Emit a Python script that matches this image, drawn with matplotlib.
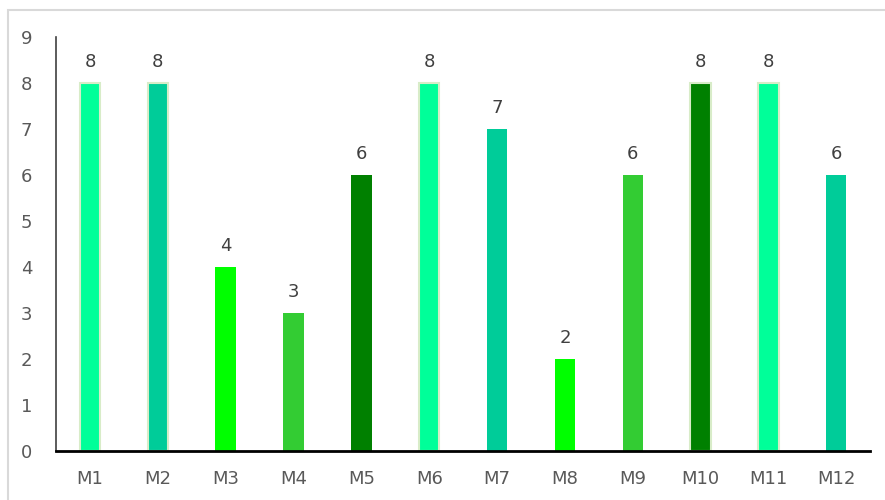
import matplotlib.pyplot as plt
from matplotlib.patches import Rectangle

months = ["M1", "M2", "M3", "M4", "M5", "M6", "M7", "M8", "M9", "M10", "M11", "M12"]
values = [8, 8, 4, 3, 6, 8, 7, 2, 6, 8, 8, 6]
colors = ["#00FF99", "#00CC99", "#00FF00", "#33CC33", "#008000",
          "#00FF99", "#00CC99", "#00FF00", "#33CC33", "#008000",
          "#00FF99", "#00CC99"]

fig = plt.figure(figsize=(8.85, 5), dpi=100)
fig.patch.set_facecolor("white")
fig.patches.append(Rectangle((8 / 885, -0.05), 1.0, 1.05 - 10 / 500, transform=fig.transFigure,
                             fill=False, edgecolor="#d9d9d9", linewidth=1.5))

ax = fig.add_axes([0.0633, 0.098, 0.92, 0.828])
x = range(len(months))
edges = ["#d8ecc8" if v == 8 else "none" for v in values]
bars = ax.bar(x, values, width=0.3, color=colors, edgecolor=edges, linewidth=1.5)

for i, v in enumerate(values):
    ax.text(i, v + 0.27, str(v), ha="center", va="bottom", fontsize=13, color="#404040")

ax.set_xlim(-0.5, len(months) - 0.5)
ax.set_ylim(0, 9)
ax.set_yticks(range(10))
ax.set_xticks(list(x))
ax.set_xticklabels(months)
ax.tick_params(axis="both", length=0, labelsize=13, labelcolor="#595959")
ax.tick_params(axis="y", pad=17)
ax.tick_params(axis="x", pad=14)

for s in ["top", "right"]:
    ax.spines[s].set_visible(False)
ax.spines["left"].set_color("#404040")
ax.spines["left"].set_linewidth(1.2)
ax.spines["bottom"].set_color("black")
ax.spines["bottom"].set_linewidth(2)

fig.savefig("out.png", dpi=100)
